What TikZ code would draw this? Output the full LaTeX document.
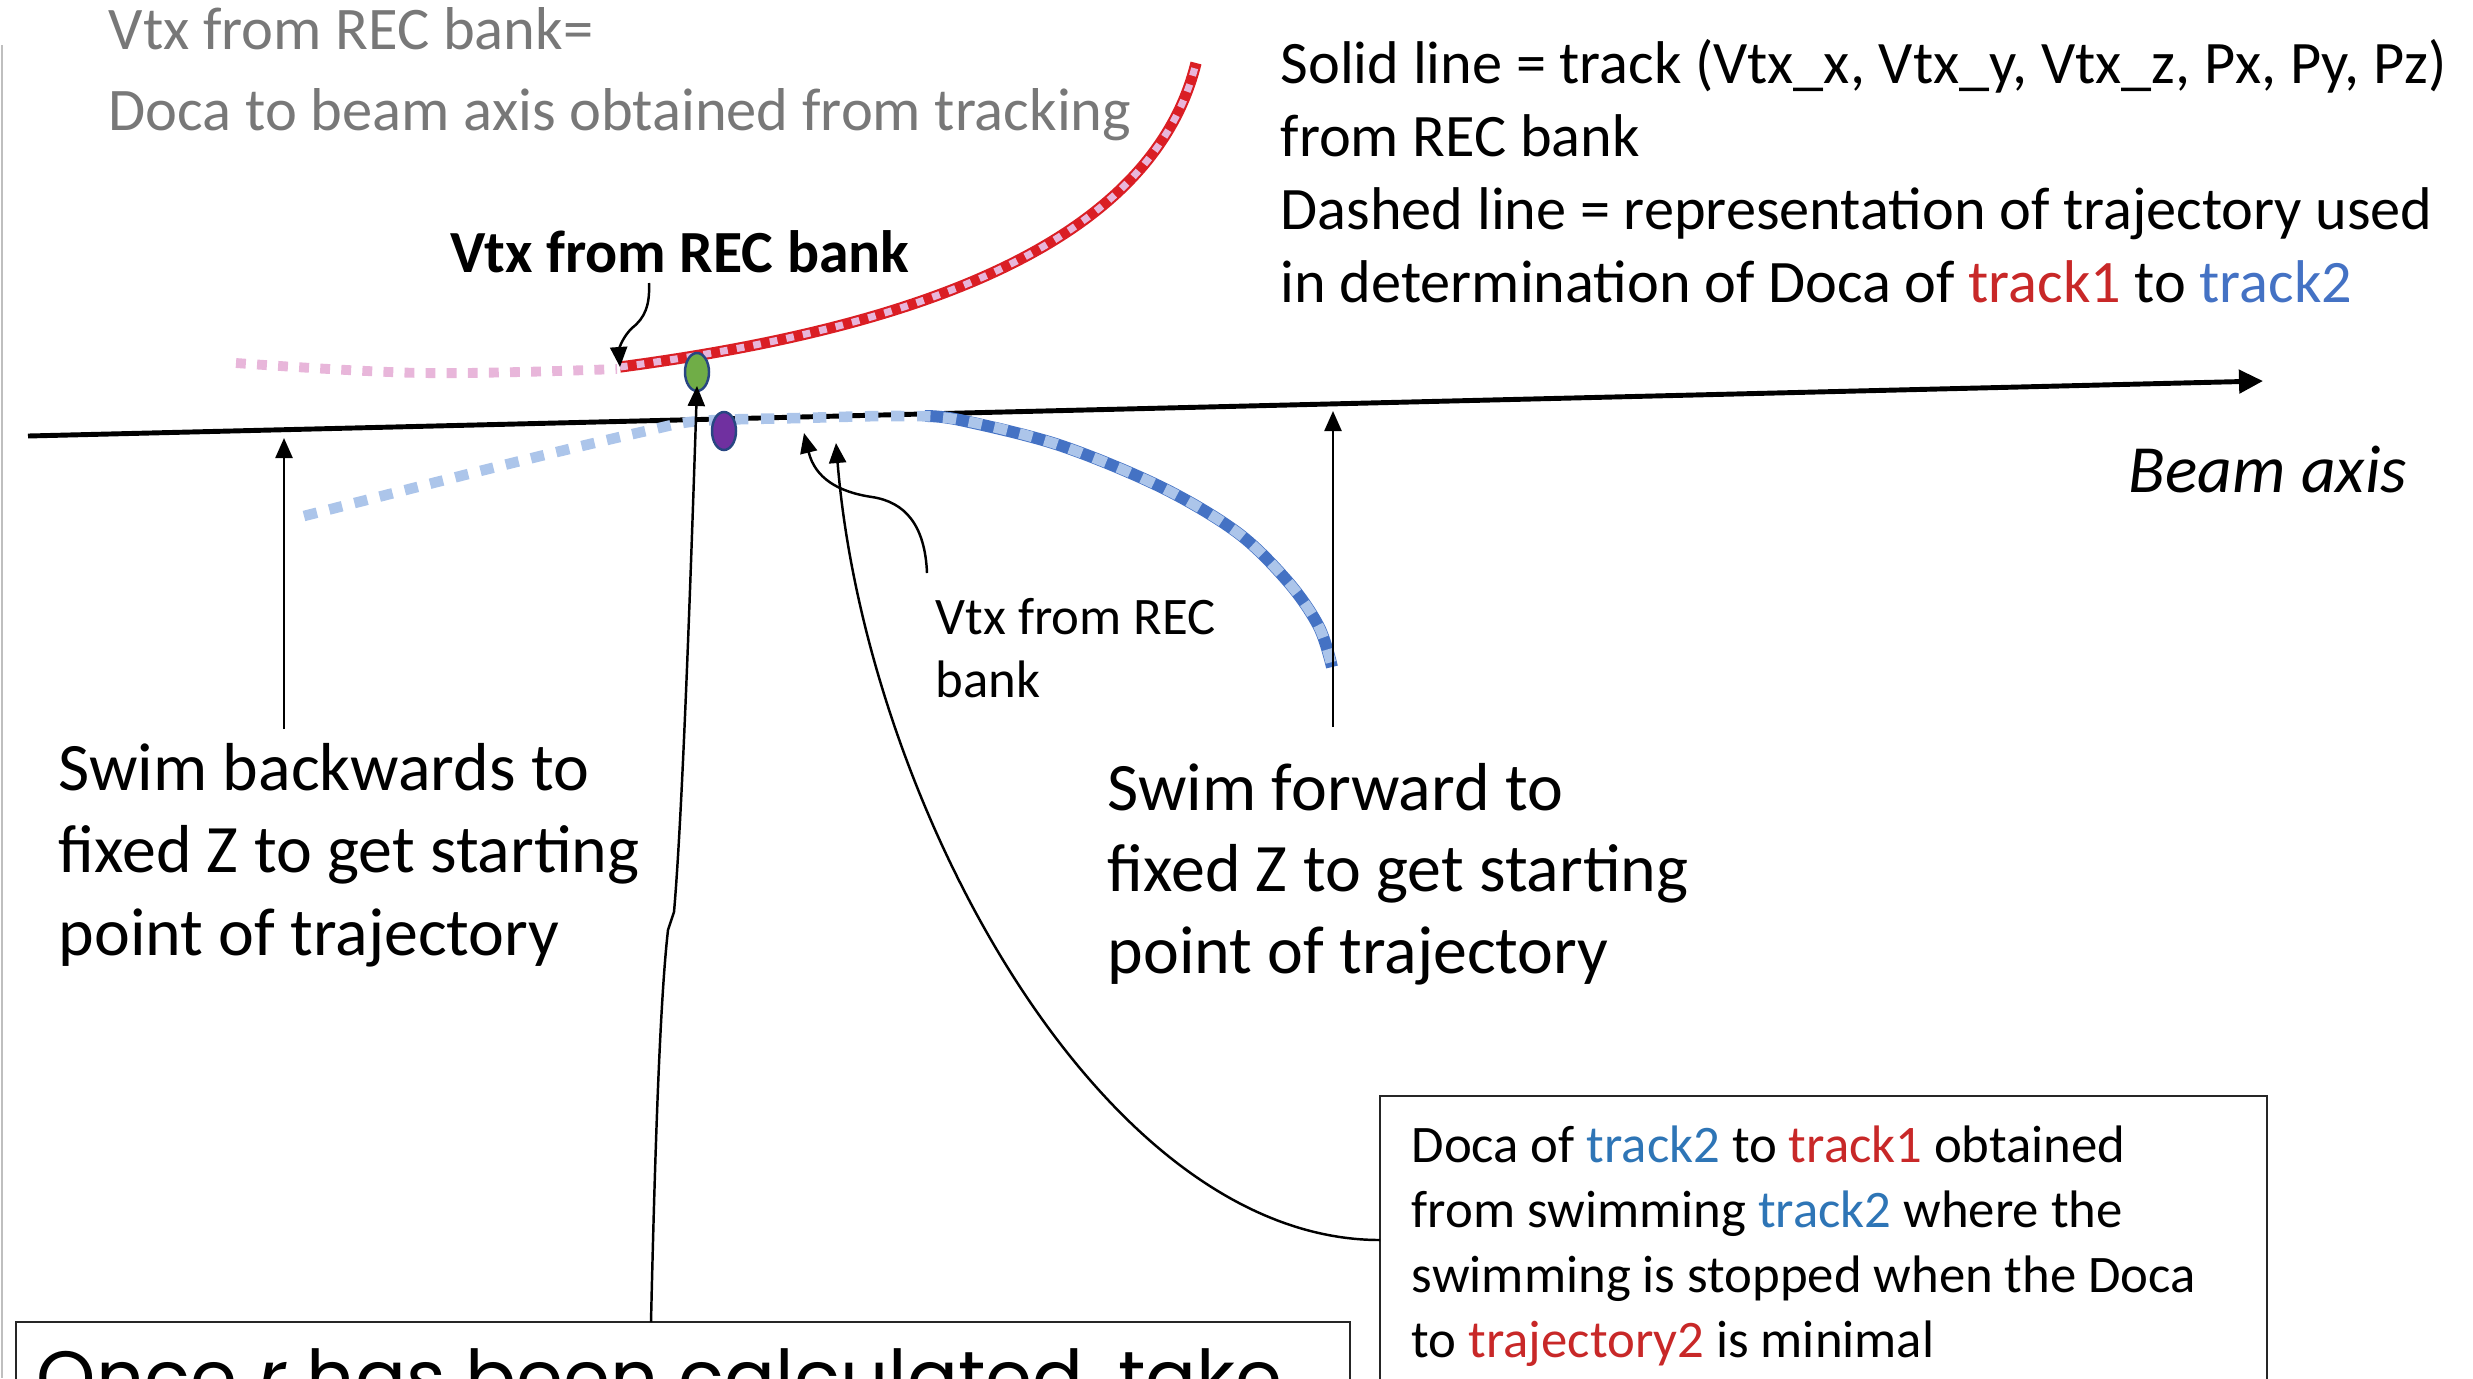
\documentclass[tikz,border=0pt]{standalone}
\usepackage{fontspec}
\setmainfont{Carlito}
\newfontfamily\popfont{Poppins}
\usetikzlibrary{arrows.meta,shapes.geometric}
\definecolor{trkred}{RGB}{218,30,36}
\definecolor{trkpink}{RGB}{232,182,218}
\definecolor{trkblue}{RGB}{68,114,196}
\definecolor{trklblue}{RGB}{172,197,234}
\definecolor{txtred}{RGB}{200,40,40}
\definecolor{txtblue}{RGB}{46,117,182}
\definecolor{txtblueb}{RGB}{68,114,196}
\definecolor{txtgray}{RGB}{120,120,120}
\definecolor{dotgreen}{RGB}{112,173,71}
\definecolor{dotpurple}{RGB}{112,48,160}
\definecolor{dotedge}{RGB}{40,70,130}
\begin{document}
\begin{tikzpicture}[x=0.01cm,y=-0.01cm,
  lbl/.style={inner sep=0pt, anchor=west, align=left},
  conn/.style={line width=0.7pt, -{Triangle[length=0.2cm,width=0.17cm]}},
  redtrk/.style={line width=3.2pt, draw=trkred},
  pinkdash/.style={line width=2pt, draw=trkpink, dash pattern=on 2.2pt off 2.6pt},
  pinkleft/.style={line width=2.8pt, draw=trkpink, dash pattern=on 2.8pt off 3.2pt},
  bluetrk/.style={line width=3.4pt, draw=trkblue},
  bluedash/.style={line width=3pt, draw=trklblue, dash pattern=on 3.8pt off 3.6pt},
  vdot/.style={ellipse, draw=dotedge, line width=0.7pt, minimum width=0.24cm, minimum height=0.38cm, inner sep=0pt},
  boxline/.style={line width=0.6pt, draw=black!85}
]
\useasboundingbox (0,0) rectangle (2473,1378);
\clip (0,0) rectangle (2473,1378);

% slide edge
\draw[black!25, line width=0.6pt] (2,45) -- (2,1378);

% coordinates
\coordinate (axL) at (28,436);
\coordinate (axR) at (2263,381);
\coordinate (r0) at (620,367);
\coordinate (rEnd) at (1196,63);
\coordinate (vb1) at (649,283);
\coordinate (bl1) at (651,1322);
\coordinate (gtip) at (697,386);
\coordinate (vs1) at (927,573);
\coordinate (vtxtip) at (804,433);
\coordinate (docaL) at (1380,1240);
\coordinate (docatip) at (836,443);
\coordinate (swb1) at (284,729);
\coordinate (ax1) at (284,438);
\coordinate (swf1) at (1333,727);
\coordinate (ax2) at (1333,411);

% beam axis
\draw[line width=1.4pt, -{Triangle[length=0.24cm,width=0.23cm]}] (axL) -- (axR);

% track 2 (blue)
\draw[bluetrk] plot[smooth, tension=0.55] coordinates {(925,416) (960,420) (1059,445) (1161,487) (1238,533) (1289,583) (1319,627) (1332,667)};
\draw[bluedash] plot[smooth, tension=0.55] coordinates {(304,516) (512,463) (646,431) (700,421) (800,418) (900,416) (960,420) (1059,445) (1161,487) (1238,533) (1289,583) (1319,627) (1332,667)};

% track 1 (red)
\draw[pinkleft] plot[smooth, tension=0.6] coordinates {(236,363) (423,373) (617,369)};
\draw[redtrk] (r0) .. controls (900,330) and (1150,250) .. (rEnd);
\draw[pinkdash] (r0) .. controls (900,330) and (1150,250) .. (rEnd);

% vertex dots
\node[vdot, fill=dotgreen] (g) at (697,372) {};
\node[vdot, fill=dotpurple] (p) at (724,431) {};

% texts
\node[lbl, text=txtgray, font=\fontsize{17.2}{23}\selectfont] (gray) at (108,74)
  {Vtx from REC bank=\\Doca to beam axis obtained from tracking};
\node[lbl, font=\fontsize{17.15}{20.8}\selectfont] (legend) at (1280,171)
  {Solid line = track (Vtx\_x, Vtx\_y, Vtx\_z, Px, Py, Pz)\\from REC bank\\Dashed line = representation of trajectory used\\in determination of Doca of \textcolor{txtred}{track1} to \textcolor{txtblueb}{track2}};
\node[inner sep=0pt, font=\fontsize{17}{20}\selectfont\bfseries] (vtxb) at (680,252) {Vtx from REC bank};
\node[lbl, font=\fontsize{19.2}{22}\selectfont\itshape] (beam) at (2128,470) {Beam axis};
\node[lbl, font=\fontsize{15}{17.9}\selectfont] (vtxs) at (935,648) {Vtx from REC\\bank};
\node[lbl, font=\fontsize{19.3}{23.4}\selectfont] (swb) at (58,855) {Swim backwards to\\fixed Z to get starting\\point of trajectory};
\node[lbl, font=\fontsize{19.3}{23.2}\selectfont] (swf) at (1107,874) {Swim forward to\\fixed Z to get starting\\point of trajectory};

% boxes
\draw[boxline] (1380,1096) rectangle (2267,1460);
\node[lbl, font=\fontsize{15}{18.5}\selectfont] (doca) at (1411,1246)
  {Doca of \textcolor{txtblue}{track2} to \textcolor{txtred}{track1} obtained\\from swimming \textcolor{txtblue}{track2} where the\\swimming is stopped when the Doca\\to \textcolor{txtred}{trajectory2} is minimal};
\draw[boxline] (16,1322) rectangle (1350,1460);
\node[anchor=north west, inner sep=0pt] (once) at (36,1348)
  {\resizebox{12.45cm}{!}{\popfont Once \textit{r} has been calculated, take}};

% connectors
\draw[conn] (vb1) .. controls (650,305) and (645,318) .. (632,328) .. controls (620,340) and (619,352) .. (r0);
\draw[conn] (bl1) .. controls (655,1150) and (660,1000) .. (668,930) -- (674,912) .. controls (682,820) and (690,600) .. (gtip);
\draw[conn] (vs1) .. controls (925,525) and (905,502) .. (872,497) .. controls (838,492) and (815,478) .. (vtxtip);
\draw[conn] (docaL) .. controls (1100,1240) and (865,800) .. (docatip);
\draw[conn] (swb1) -- (ax1);
\draw[conn] (swf1) -- (ax2);
\end{tikzpicture}
\end{document}
